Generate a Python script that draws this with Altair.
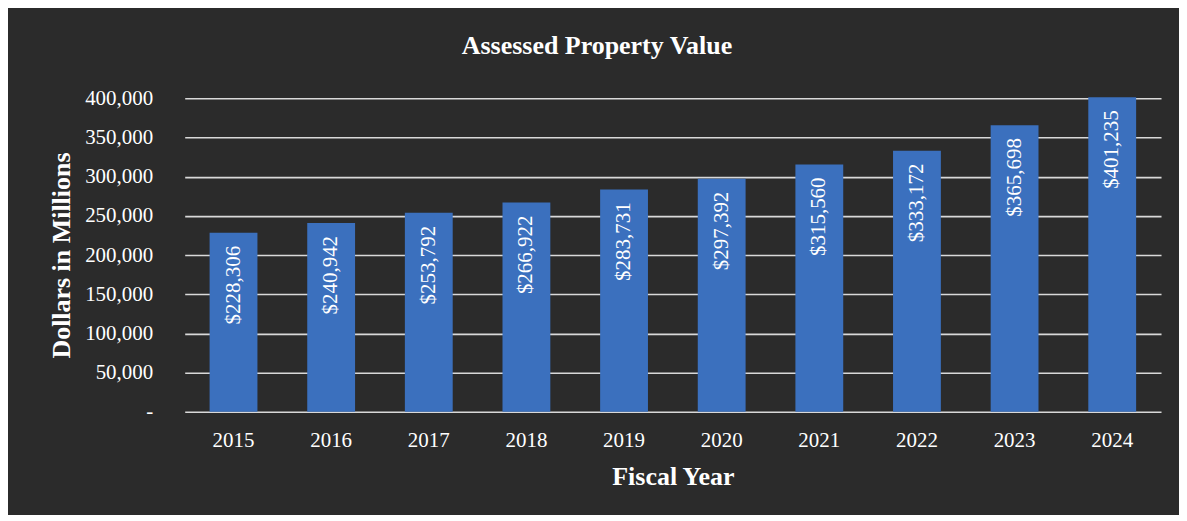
import altair as alt
import pandas as pd

years = ["2015", "2016", "2017", "2018", "2019", "2020", "2021", "2022", "2023", "2024"]
values = [228306, 240942, 253792, 266922, 283731, 297392, 315560, 333172, 365698, 401235]
labels = ["$228,306", "$240,942", "$253,792", "$266,922", "$283,731",
          "$297,392", "$315,560", "$333,172", "$365,698", "$401,235"]

df = pd.DataFrame({"year": years, "value": values, "label": labels})

FONT = "Times New Roman"
BG = "#2b2b2b"
BAR = "#3b70be"
GRID = "#d9d9d9"
YTICKS = [0, 50000, 100000, 150000, 200000, 250000, 300000, 350000, 400000]

x = alt.X("year:N", sort=years, title="Fiscal Year",
          scale=alt.Scale(paddingInner=0.51, paddingOuter=0.255),
          axis=alt.Axis(labelAngle=0, labelFont=FONT, labelFontSize=21, labelColor="white",
                        labelBaseline="middle", labelPadding=29, ticks=False, tickSize=0,
                        domain=False, grid=False, labelOverlap=False,
                        titleFont=FONT, titleFontSize=26, titleFontWeight="bold",
                        titleColor="white", titleBaseline="middle", titleAlign="center",
                        titleX=489, titleY=65))

y = alt.Y("value:Q", title="Dollars in Millions",
          scale=alt.Scale(domain=[0, 400000], nice=False),
          axis=alt.Axis(values=YTICKS,
                        format=",d", labelExpr="datum.value == 0 ? '-' : datum.label",
                        labelFont=FONT, labelFontSize=21, labelColor="white",
                        labelOverlap=False,
                        labelPadding=32, ticks=False, tickSize=0, domain=False,
                        grid=True, gridColor=GRID, gridWidth=1.6,
                        titleFont=FONT, titleFontSize=26, titleFontWeight="bold",
                        titleColor="white", titleAngle=270, titleBaseline="middle",
                        titleAlign="center", titleX=-123, titleY=157))

bars = alt.Chart(df).mark_bar(color=BAR).encode(x=x, y=y)

text = alt.Chart(df).mark_text(angle=270, align="right", baseline="middle", dx=-13,
                               font=FONT, fontSize=21, color="white").encode(
    x=x, y=y, text="label:N")

chart = (bars + text).properties(
    width=978, height=314,
    background=BG,
    padding={"left": 177, "top": 90, "right": 18, "bottom": 103},
    autosize=alt.AutoSizeParams(type="none"),
    title=alt.TitleParams("Assessed Property Value", font=FONT, fontSize=26,
                          fontWeight="bold", color="white", anchor="middle",
                          dx=-76, offset=28),
).configure_view(stroke=None)

chart.save("out.html", embed_options={"renderer": "svg", "actions": False})
